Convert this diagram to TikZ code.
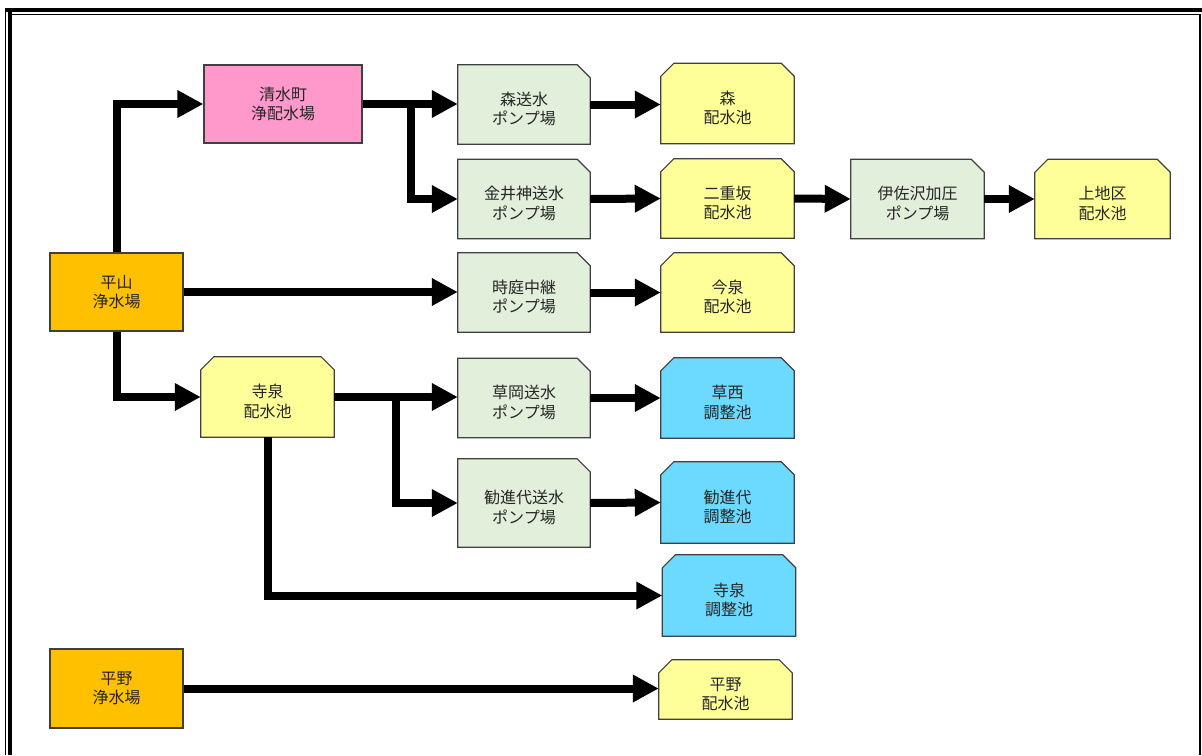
\documentclass[tikz,border=0pt]{standalone}
\usepackage{fontspec}
\newfontfamily\jp{Noto Sans CJK JP}
\usetikzlibrary{arrows.meta}
\pgfdeclarelayer{bg}
\pgfsetlayers{bg,main}
\definecolor{cpink}{HTML}{FF99CC}
\definecolor{corange}{HTML}{FFC000}
\definecolor{cgreen}{HTML}{E2EFDA}
\definecolor{cyellow}{HTML}{FFFF99}
\definecolor{ccyan}{HTML}{6CD9FF}
\definecolor{cline}{HTML}{404040}
\newcommand\lowstrut{\rule{0pt}{22pt}}
\newcommand\snipone[2]{\filldraw[fill=#2,draw=cline,line width=1.2pt] (#1.south west) -- (#1.north west) -- ([xshift=-13pt]#1.north east) -- ([yshift=-13pt]#1.north east) -- (#1.south east) -- cycle;}
\newcommand\sniptwo[2]{\filldraw[fill=#2,draw=cline,line width=1.2pt] (#1.south west) -- ([yshift=-13pt]#1.north west) -- ([xshift=13pt]#1.north west) -- ([xshift=-13pt]#1.north east) -- ([yshift=-13pt]#1.north east) -- (#1.south east) -- cycle;}
\begin{document}
\begin{tikzpicture}[x=1pt,y=-1pt,
  box/.style={minimum width=132pt,minimum height=79pt,inner sep=0pt,align=center,
    font=\jp\fontsize{16}{19.5}\selectfont,text=black!85},
  plain/.style={box,draw=cline,line width=1.2pt},
  conn/.style={line width=8pt,-{Triangle[length=26pt,width=26pt]}}]
\useasboundingbox (0,0) rectangle (1202,755);
% frame
\draw[line width=4pt] (5,10) -- (1202,10);
\draw[line width=4pt] (10,8) -- (10,755);
\draw[line width=1.2pt] (5.5,8) -- (5.5,755);
\draw[line width=1.2pt] (12,14.5) -- (1199.5,14.5);
\draw[line width=2.5pt] (1199.8,14) -- (1199.8,755);
% plain nodes
\node[plain,fill=cpink,minimum width=158pt,minimum height=78pt] (shimizu) at (283,104) {清水町\\浄配水場};
\node[plain,fill=corange,minimum width=133pt,minimum height=78pt] (hirayama) at (116.5,292) {平山\\浄水場};
\node[plain,fill=corange,minimum width=133pt] (hirano) at (116.5,688.5) {平野\\浄水場};
% pumps
\node[box] (mori_p) at (524,104.5) {\lowstrut 森送水\\ポンプ場};
\node[box] (kanai_p) at (524,199) {\lowstrut 金井神送水\\ポンプ場};
\node[box] (tokiniwa_p) at (524,292.5) {\lowstrut 時庭中継\\ポンプ場};
\node[box] (kusaoka_p) at (524,398) {\lowstrut 草岡送水\\ポンプ場};
\node[box,minimum height=88pt] (kanjin_p) at (524,503) {\lowstrut 勧進代送水\\ポンプ場};
\node[box,minimum width=133pt] (isazawa_p) at (917.5,199) {\lowstrut 伊佐沢加圧\\ポンプ場};
% reservoirs
\node[box,minimum width=133pt,minimum height=80pt] (mori_r) at (727.5,103.5) {\lowstrut 森\\配水池};
\node[box,minimum width=133pt] (nijuzaka_r) at (727.5,198.5) {\lowstrut 二重坂\\配水池};
\node[box,minimum width=133pt] (imaizumi_r) at (727.5,292.5) {\lowstrut 今泉\\配水池};
\node[box,minimum width=135pt] (kamichiku_r) at (1102.5,199) {\lowstrut 上地区\\配水池};
\node[box,minimum width=133pt,minimum height=80pt] (teraizumi_r) at (267.5,397) {\lowstrut 寺泉\\配水池};
\node[box,minimum width=133pt,minimum height=59pt] (hirano_r) at (725.5,689.5) {\lowstrut 平野\\配水池};
\node[box,minimum width=133pt,minimum height=80pt] (kusanishi) at (727.5,398) {\lowstrut 草西\\調整池};
\node[box,minimum width=133pt,minimum height=81pt] (kanjin_c) at (727.5,502.5) {\lowstrut 勧進代\\調整池};
\node[box,minimum width=133pt,minimum height=81pt] (terai_c) at (729,595.5) {\lowstrut 寺泉\\調整池};
\begin{pgfonlayer}{bg}
\snipone{mori_p}{cgreen}
\snipone{kanai_p}{cgreen}
\snipone{tokiniwa_p}{cgreen}
\snipone{kusaoka_p}{cgreen}
\snipone{kanjin_p}{cgreen}
\snipone{isazawa_p}{cgreen}
\sniptwo{mori_r}{cyellow}
\sniptwo{nijuzaka_r}{cyellow}
\sniptwo{imaizumi_r}{cyellow}
\sniptwo{kamichiku_r}{cyellow}
\sniptwo{teraizumi_r}{cyellow}
\sniptwo{hirano_r}{cyellow}
\sniptwo{kusanishi}{ccyan}
\sniptwo{kanjin_c}{ccyan}
\sniptwo{terai_c}{ccyan}
\end{pgfonlayer}
% connectors
\coordinate (jA) at (411,104);
\coordinate (jB) at (396,397);
\draw[conn] (hirayama.north) |- (shimizu.west);
\draw[conn] (shimizu.east) -- (shimizu.east -| mori_p.west);
\draw[conn] (jA) |- (kanai_p.west);
\draw[conn] (mori_p.east) -- (mori_p.east -| mori_r.west);
\draw[conn] (kanai_p.east) -- (nijuzaka_r.west);
\draw[conn] (nijuzaka_r.east) -- (isazawa_p.west);
\draw[conn] (isazawa_p.east) -- (kamichiku_r.west);
\draw[conn] (hirayama.east) -- (hirayama.east -| tokiniwa_p.west);
\draw[conn] (tokiniwa_p.east) -- (imaizumi_r.west);
\draw[conn] (hirayama.south) |- (teraizumi_r.west);
\draw[conn] (teraizumi_r.east) -- (teraizumi_r.east -| kusaoka_p.west);
\draw[conn] (jB) |- (kanjin_p.west);
\draw[conn] (kusaoka_p.east) -- (kusanishi.west);
\draw[conn] (kanjin_p.east) -- (kanjin_c.west);
\draw[conn] (teraizumi_r.south) |- (terai_c.west);
\draw[conn] (hirano.east) -- (hirano.east -| hirano_r.west);
\end{tikzpicture}
\end{document}
